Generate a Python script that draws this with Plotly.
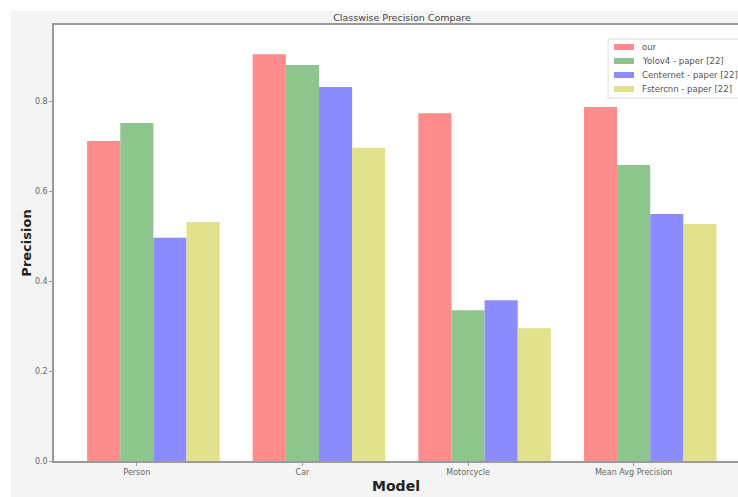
import plotly.graph_objects as go

# Classes on the x axis and per-model precision values
categories = ["Person", "Car", "Motorcycle", "Mean Avg Precision"]
series_names = ["our", "Yolov4 - paper [22]", "Centernet - paper [22]", "Fstercnn - paper [22]"]
our = [0.711, 0.904, 0.773, 0.787]
yolov4 = [0.751, 0.880, 0.335, 0.658]
centernet = [0.496, 0.831, 0.357, 0.549]
fstercnn = [0.531, 0.696, 0.295, 0.527]
y_ticks = [0.0, 0.2, 0.4, 0.6, 0.8]

colors = ["#ff8c8c", "#8dc58d", "#8c8cff", "#e2e28c"]
values = [our, yolov4, centernet, fstercnn]

W, H = 738, 497
M_L, M_R, M_T, M_B = 54, 0, 25, 36
PW, PH = W - M_L - M_R, H - M_T - M_B


def px_x(px):
    return (px - M_L) / PW


def px_y(py):
    return (H - M_B - py) / PH


bar_w = 0.2
x_pos = list(range(len(categories)))

fig = go.Figure()
for k, (name, vals, col) in enumerate(zip(series_names, values, colors)):
    fig.add_trace(go.Bar(
        x=x_pos, y=vals, name=name,
        width=bar_w, offset=-0.4 + k * bar_w,
        marker=dict(color=col, line=dict(width=0)),
        showlegend=False,
    ))

# ticks sit under the second bar of each group
tick_pos = [p - 0.4 + 1.5 * bar_w for p in x_pos]

axis_col = "#9a9a9a"
tick_font = dict(family="DejaVu Sans", size=8, color="#666666")

fig.update_layout(
    width=W, height=H,
    margin=dict(l=M_L, r=M_R, t=M_T, b=M_B, autoexpand=False),
    paper_bgcolor="#f4f4f4",
    plot_bgcolor="#ffffff",
    font=dict(family="DejaVu Sans", color="#333333"),
    title=dict(text="Classwise Precision Compare", x=px_x(402), xref="paper",
               xanchor="center", y=1 - 18 / H, yanchor="middle",
               font=dict(size=9.5, color="#444444")),
    showlegend=False,
    bargap=0.2,
)

fig.update_xaxes(
    range=[-0.6, 3.53], tickmode="array", tickvals=tick_pos, ticktext=categories,
    ticks="outside", ticklen=3, tickcolor=axis_col, tickfont=tick_font,
    showline=True, linecolor=axis_col, linewidth=1.5, mirror=True,
    showgrid=False, zeroline=False,
    title=dict(text="<b>Model</b>", font=dict(size=14, color="#222222"), standoff=5),
)
fig.update_yaxes(
    range=[0, 0.969], tickmode="array", tickvals=y_ticks,
    ticktext=[f"{v:.1f}" for v in y_ticks],
    ticks="outside", ticklen=3, tickcolor=axis_col, tickfont=tick_font,
    showline=True, linecolor=axis_col, linewidth=1.5, mirror=True,
    showgrid=False, zeroline=False,
    title=dict(text="<b>Precision</b>", font=dict(size=13, color="#222222"), standoff=0),
)

# white strips framing the grey canvas on the left and top
fig.add_shape(type="rect", xref="paper", yref="paper", layer="below",
              x0=px_x(-20), x1=px_x(11), y0=px_y(H + 20), y1=px_y(-20),
              fillcolor="#ffffff", line=dict(width=0))
fig.add_shape(type="rect", xref="paper", yref="paper", layer="below",
              x0=px_x(-20), x1=px_x(W + 20), y0=px_y(11), y1=px_y(-20),
              fillcolor="#ffffff", line=dict(width=0))

# legend box in the upper right corner, running off the canvas edge
fig.add_shape(type="rect", xref="paper", yref="paper",
              x0=px_x(608), x1=px_x(W + 20), y0=px_y(98), y1=px_y(39),
              fillcolor="rgba(255,255,255,0.85)", line=dict(color="#dcdcdc", width=1))
legend_rows = [47, 61, 75, 89]
for name, col, ry in zip(series_names, colors, legend_rows):
    fig.add_shape(type="rect", xref="paper", yref="paper",
                  x0=px_x(614), x1=px_x(634), y0=px_y(ry + 3), y1=px_y(ry - 3),
                  fillcolor=col, line=dict(width=0))
    fig.add_annotation(text=name, xref="paper", yref="paper",
                       x=px_x(640), y=px_y(ry), xanchor="left", yanchor="middle",
                       showarrow=False, font=dict(size=8.5, color="#555555"))

fig.write_html("out.html")
